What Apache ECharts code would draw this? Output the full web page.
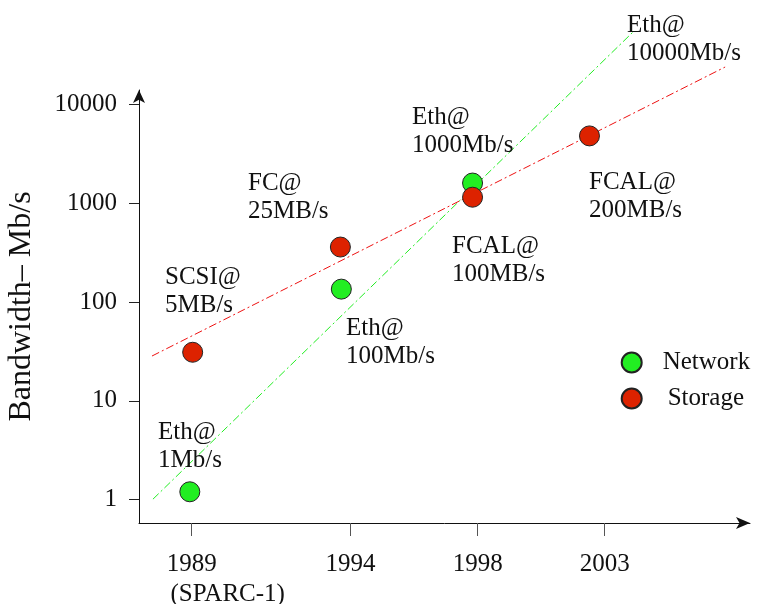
<!DOCTYPE html>
<html><head><meta charset="utf-8">
<script src="https://cdn.jsdelivr.net/npm/echarts@6/dist/echarts.min.js"></script>
<style>html,body{margin:0;padding:0;background:#fff}#c{width:757px;height:604px}</style>
</head><body><div id="c"></div>
<script>
// ---- data ----
const tickYears = [1989, 1994, 1998, 2002];
const tickLabels = ['1989\n(SPARC-1)', '1994', '1998', '2003'];
const yTicks = [1, 10, 100, 1000, 10000];
const networkX = [1988.94, 1993.71, 1997.84, 2001.55];
const networkY = [1.2, 135, 1600, 18500];
const storageX = [1989.03, 1993.68, 1997.84, 2001.52];
const storageY = [31, 360, 1150, 4800];
const networkTrendX = [1987.78, 2002.89];
const networkTrendY = [1.01, 54000];
const storageTrendX = [1987.75, 2005.79];
const storageTrendY = [28.4, 23900];
const noteTexts = ['SCSI@\n5MB/s', 'Eth@\n1Mb/s', 'FC@\n25MB/s', 'Eth@\n1000Mb/s',
  'FCAL@\n100MB/s', 'Eth@\n100Mb/s', 'Eth@\n10000Mb/s', 'FCAL@\n200MB/s'];

// ---- layout ----
const notePos = [[165,277],[158,432],[248,183],[412,117],[452,246],[346,328],[627,25],[589,182]];
const FONT = 'Liberation Serif';
const GREEN = '#22ee22', RED = '#dd2200';

const zip = (xs, ys) => xs.map((x, i) => [x, ys[i]]);

const chart = echarts.init(document.getElementById('c'), null, {renderer: 'canvas'});
chart.setOption({
  backgroundColor: '#fff',
  animation: false,
  grid: {left: 139, right: 7, top: 90, bottom: 81, containLabel: false, outerBoundsMode: 'none'},
  xAxis: {
    type: 'value', min: 1987.341, max: 2006.573,
    axisLine: {show: true, symbol: ['none', 'arrow'], symbolSize: [9, 14], lineStyle: {color: '#111', width: 1}},
    axisTick: {show: true, length: 13, lineStyle: {color: '#555'}, customValues: tickYears},
    axisLabel: {
      customValues: tickYears, margin: 26, color: '#111', fontFamily: FONT, fontSize: 25, lineHeight: 30,
      formatter: function (v) {
        const i = tickYears.indexOf(Math.round(v));
        if (i === 0) { const p = tickLabels[0].split('\n'); return '{a|' + p[0] + '}\n{b|' + p[1] + '}'; }
        return i >= 0 ? tickLabels[i] : '';
      },
      rich: {a: {fontFamily: FONT, fontSize: 25, lineHeight: 30, color: '#111'},
             b: {fontFamily: FONT, fontSize: 25, lineHeight: 30, color: '#111', padding: [0, 0, 0, 72]}}
    },
    splitLine: {show: false}
  },
  yAxis: {
    type: 'log', logBase: 10, min: 0.5797, max: 13990,
    name: 'Bandwidth\u2013 Mb/s', nameLocation: 'middle', nameRotate: 90, nameGap: 101,
    nameTextStyle: {fontFamily: FONT, fontSize: 32, color: '#111'},
    axisLine: {show: true, symbol: ['none', 'arrow'], symbolSize: [9, 13], lineStyle: {color: '#111', width: 1}},
    axisTick: {show: true, length: 10, lineStyle: {color: '#222'}, customValues: yTicks},
    axisLabel: {customValues: yTicks, margin: 22, color: '#111', fontFamily: FONT, fontSize: 25,
      formatter: v => String(Math.round(v))},
    splitLine: {show: false}
  },
  legend: {
    orient: 'vertical', left: 620.7, top: 350, padding: 0, itemWidth: 20, itemHeight: 20, itemGap: 11,
    data: ['Network', 'Storage'],
    formatter: n => n === 'Storage' ? '{s|Storage}' : '{n|Network}',
    textStyle: {fontFamily: FONT, fontSize: 25, color: '#111',
      rich: {n: {fontFamily: FONT, fontSize: 25, color: '#111', padding: [0, 0, 0, 16]},
             s: {fontFamily: FONT, fontSize: 25, color: '#111', padding: [0, 0, 0, 21]}}}
  },
  series: [
    {type: 'line', name: 'netTrend', data: zip(networkTrendX, networkTrendY), symbol: 'none', clip: false,
     lineStyle: {color: GREEN, width: 1, type: [8, 3, 2, 3]}, silent: true, z: 1},
    {type: 'line', name: 'stoTrend', data: zip(storageTrendX, storageTrendY), symbol: 'none', clip: false,
     lineStyle: {color: '#ee1111', width: 1, type: [8, 3, 2, 3]}, silent: true, z: 1},
    {type: 'scatter', name: 'Network', data: zip(networkX, networkY), symbol: 'circle', symbolSize: 20,
     itemStyle: {color: GREEN, borderColor: '#222', borderWidth: 1, opacity: 1}, z: 3},
    {type: 'scatter', name: 'Storage', data: zip(storageX, storageY), symbol: 'circle', symbolSize: 20,
     itemStyle: {color: RED, borderColor: '#222', borderWidth: 1, opacity: 1}, z: 4}
  ],
  graphic: noteTexts.map((t, i) => ({
    type: 'text', left: notePos[i][0], top: notePos[i][1] - 14, z: 10,
    style: {text: t, font: '25px "' + FONT + '"', lineHeight: 28, fill: '#111'}
  }))
});
</script></body></html>
